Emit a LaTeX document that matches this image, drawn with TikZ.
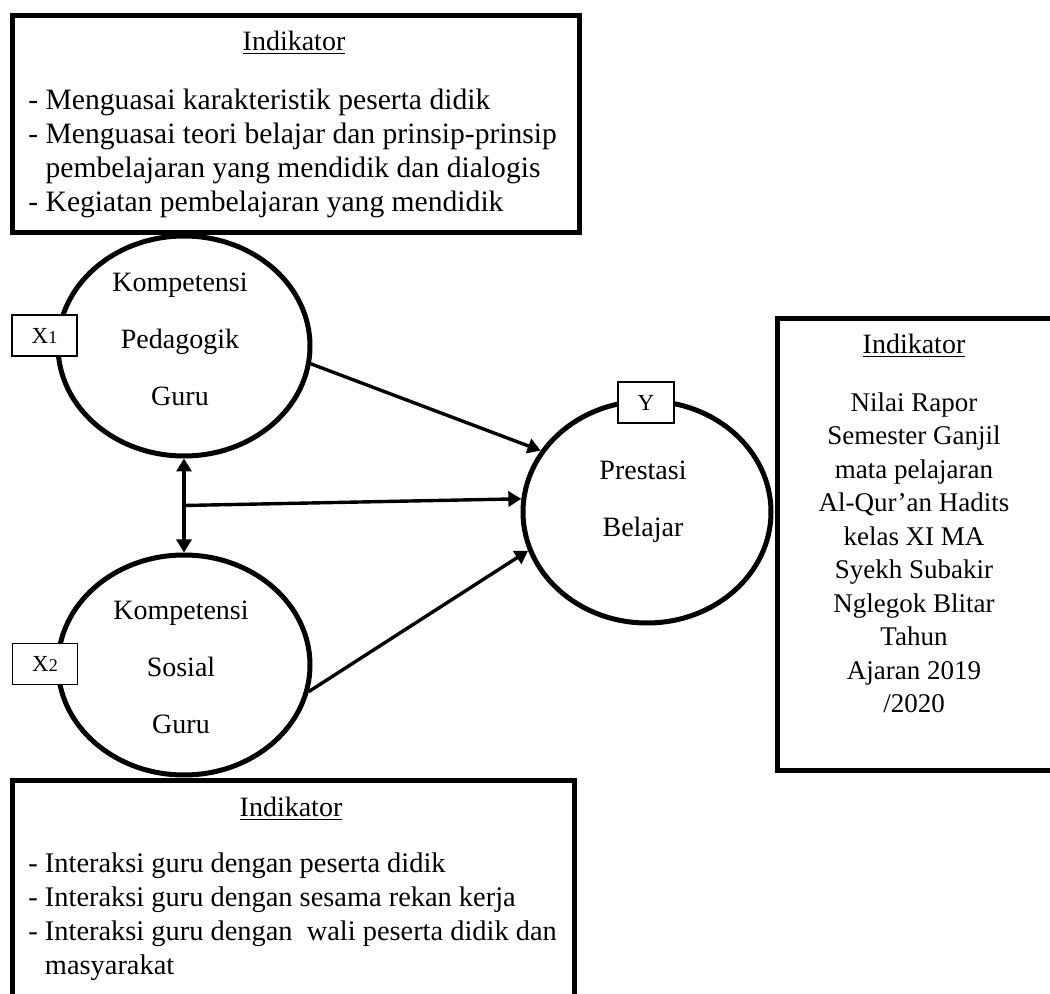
\documentclass[tikz,border=0pt]{standalone}
\usepackage{fontspec}
\setmainfont{Liberation Serif}
\usetikzlibrary{
  arrows.meta,
  positioning,
  calc,
  shapes.geometric
}

\begin{document}
\begin{tikzpicture}[
      x=0.5pt, y=-0.5pt,
      >={Triangle[length=6.5pt, width=7.5pt]},
      every node/.style={font=\fontsize{14}{15}\selectfont},
      kotak/.style={draw, line width=2.5pt, anchor=north west, inner sep=0pt},
      variabel/.style={draw, ellipse, line width=2.5pt, inner sep=0pt,
                       minimum width=126pt, minimum height=110pt},
      namavar/.style={inner sep=0pt, align=center, font=\fontsize{14}{28.5}\selectfont},
      kode/.style={draw, fill=white, line width=0.6pt, inner sep=0pt,
                   minimum width=32.5pt, minimum height=20.5pt,
                   font=\fontsize{11.5}{12}\selectfont},
      judul/.style={inner sep=0pt},
      daftar/.style={inner sep=0pt, anchor=north west, align=left,
                     font=\fontsize{14.8}{17}\selectfont},
      panah/.style={->, line width=1.7pt},
      panahdua/.style={<->, line width=1.7pt}
  ]
      \path[use as bounding box, clip] (0,0) rectangle (1050,994);

      % Kotak indikator
      \node[kotak, minimum width=283.5pt, minimum height=108.5pt] (indx1) at (10,13) {};
      \node[kotak, minimum width=142.5pt, minimum height=226pt] (indy)  at (775,316) {};
      \node[kotak, minimum width=281pt, minimum height=113pt] (indx2) at (10,778) {};

      \node[judul] (judx1) at (294,43)  {\underline{Indikator}};
      \node[judul] (judy)  at (914,346) {\underline{Indikator}};
      \node[judul] (judx2) at (291,809) {\underline{Indikator}};

      \node[daftar] (isix1) at (28,89)
            {- Menguasai karakteristik peserta didik\\
             - Menguasai teori belajar dan prinsip-prinsip\\
             \phantom{- }pembelajaran yang mendidik dan dialogis\\
             - Kegiatan pembelajaran yang mendidik};
      \node[daftar, anchor=north, align=center,
            font=\fontsize{13.5}{16.75}\selectfont] (isiy) at (914,392)
            {Nilai Rapor\\ Semester Ganjil\\ mata pelajaran\\ Al-Qur’an Hadits\\
             kelas XI MA\\ Syekh Subakir\\ Nglegok Blitar\\ Tahun\\ Ajaran 2019\\ /2020};
      \node[daftar, font=\fontsize{14.2}{17}\selectfont] (isix2) at (28,852)
            {- Interaksi guru dengan peserta didik\\
             - Interaksi guru dengan sesama rekan kerja\\
             - Interaksi guru dengan\ \ wali peserta didik dan\\
             \phantom{- }masyarakat};

      % Variabel penelitian
      \node[variabel] (kpg) at (184,346) {};
      \node[variabel] (ksg) at (184,665) {};
      \node[variabel, minimum width=124pt, minimum height=111pt] (pb) at (647,512) {};

      \node[namavar] (tkpg) at (180,339) {Kompetensi\\ Pedagogik\\ Guru};
      \node[namavar] (tksg) at (181,667) {Kompetensi\\ Sosial\\ Guru};
      \node[namavar] (tpb)  at (643,502) {Prestasi\\ Belajar};

      \node[kode] (x1) at (44.5,335.5) {X{\fontsize{9}{9}\selectfont 1}};
      \node[kode] (x2) at (45,664)     {X{\fontsize{9}{9}\selectfont 2}};
      \node[kode, minimum width=28pt] (y) at (646,402.5) {Y};

      % Hubungan antar variabel
      \coordinate (tengah) at ($(kpg.south)!0.5!(ksg.north)$);
      \draw[panahdua] (kpg.south) -- (ksg.north);
      \draw[panah] (kpg.-8)  -- (pb.150);
      \draw[panah] (tengah)  -- (pb.174);
      \draw[panah] (ksg.-12) -- (pb.198);
  \end{tikzpicture}
\end{document}
